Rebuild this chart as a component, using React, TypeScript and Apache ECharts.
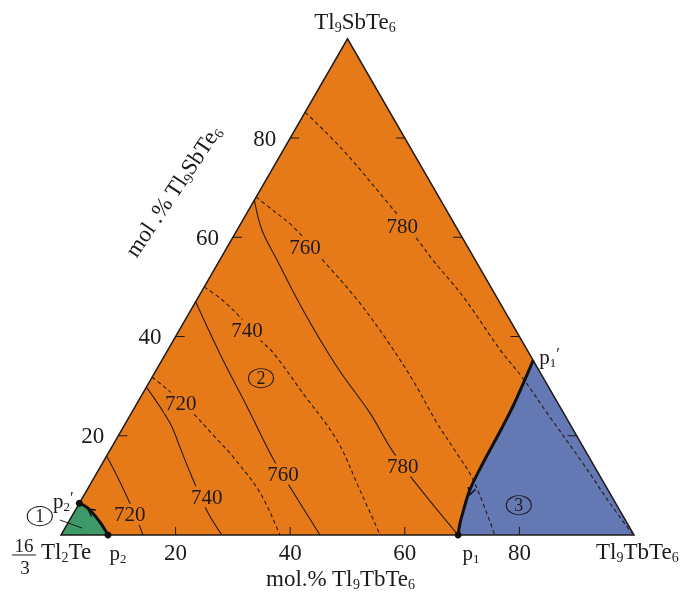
import { useEffect, useRef } from 'react';
import * as echarts from 'echarts';

// Ternary compositions are given as [mol.% Tl9TbTe6, mol.% Tl9SbTe6]
const H = Math.sqrt(3) / 2;
const toXY = (p: number[]) => [p[0] + p[1] / 2, p[1] * H];

const TICKS = [20, 40, 60, 80];

const TRIANGLE = [[0, 0], [100, 0], [0, 100]];
const CURVE_P2 = [[8.2, 0], [5.5, 2.6], [2.0, 5.4], [0, 6.4]];
const FIELD_1 = [[0, 0], ...CURVE_P2];
const CURVE_P1 = [[69.3, 0], [68.5, 2.2], [67.9, 4.4], [66.8, 9.1], [66.4, 14.5], [66.2, 20.6], [65.9, 26.0], [65.4, 30.5], [64.8, 35.2]];
const FIELD_3 = [...CURVE_P1, [100, 0]];

// solid isotherms
const ISO_S_720 = [[0, 15.9], [4.2, 11.5], [8.2, 7.1], [11.8, 3.0], [14.3, 0]];
const ISO_S_740 = [[0, 29.8], [7.7, 22.6], [12.4, 17.1], [17.0, 11.7], [23.3, 4.6], [28.1, 0]];
const ISO_S_760 = [[0, 47.0], [10.6, 35.3], [19.6, 25.8], [29.2, 15.5], [35.1, 9.7], [45.2, 0]];
const ISO_S_780 = [[0, 67.5], [4.3, 61.5], [10.0, 55.4], [19.6, 45.3], [31.2, 33.9], [41.6, 24.6], [49.2, 17.1], [55.9, 11.1], [69.3, 0]];
// dashed isotherms
const ISO_D_720 = [[0, 31.8], [4.1, 29.2], [10.7, 24.6], [16.4, 20.2], [22.2, 15.7], [30.5, 8.5], [38.2, 0]];
const ISO_D_740 = [[0, 50.0], [4.4, 47.4], [9.3, 43.9], [15.1, 39.3], [18.7, 36.7], [27.9, 28.6], [38.6, 19.1], [47.6, 9.1], [55.7, 0]];
const ISO_D_760 = [[0, 68.1], [4.8, 65.1], [9.5, 62.1], [18.0, 55.4], [28.0, 47.4], [37.2, 39.3], [45.8, 31.2], [54.3, 22.6], [60.8, 16.5], [66.4, 11.1], [75.7, 0]];
const ISO_D_780 = [[0, 85.2], [10.4, 77.6], [23.6, 66.9], [32.6, 59.4], [37.2, 55.4], [46.2, 48.0], [58.0, 37.3], [64.8, 31.6], [73.4, 23.8], [83.8, 14.5], [92.6, 6.4], [99.4, 0.4]];

const SOLID_LINES = [ISO_S_720, ISO_S_740, ISO_S_760, ISO_S_780];
const DASHED_LINES = [ISO_D_720, ISO_D_740, ISO_D_760, ISO_D_780];

const ISO_LABEL_TEXT = ['720', '740', '760', '780', '720', '740', '760', '780'];
const ISO_LABEL_POS = [[9.9, 4.2], [21.6, 7.7], [32.6, 12.3], [52.7, 13.9], [7.6, 26.6], [11.8, 41.3], [13.6, 58.0], [28.4, 62.3]];

const FIELD_NUMBERS = ['1', '2', '3'];
const FIELD_NUMBER_POS = [[-5.6, 3.8], [19.1, 31.6], [76.9, 6.0]];
const LEADER_1 = [[-2.8, 3.4], [3.0, 1.4]];

const P1 = [69.3, 0];
const P2 = [8.2, 0];
const P2_PRIME = [0, 6.4];
const P1_PRIME = [64.8, 35.2];

const ARROW_AT = [[2.1, 5.2], [67.3, 8.1]];
const ARROW_TOWARD = [[0, 6.4], [69.3, 0]];

const FONT = "'Liberation Serif', 'Times New Roman', serif";
const INK = '#1e1a1a';
const LINE_INK = '#2a1a10';
const ORANGE = '#E67A19';
const BLUE = '#6478B4';
const GREEN = '#3D9A68';

const subRich = (size: number) => ({
  s: { fontSize: Math.round(size * 0.6), fontFamily: FONT, color: INK, fill: INK, padding: [Math.round(size * 0.5), 0, 0, 0] },
  q: { fontSize: Math.round(size * 0.8), fontFamily: FONT, color: INK, fill: INK, padding: [0, 0, Math.round(size * 0.35), 0] },
});

export default function App() {
  const ref = useRef<HTMLDivElement>(null);
  useEffect(() => {
    if (!ref.current) return;
    const chart = echarts.init(ref.current, null, { renderer: 'svg' });
    const H_PX = 573 * H;

    const lineSeries = (pts: number[][], dashed: boolean) => ({
      type: 'line',
      data: pts.map(toXY),
      smooth: 0.35,
      showSymbol: false,
      symbol: 'none',
      clip: false,
      silent: true,
      z: 3,
      lineStyle: { color: LINE_INK, width: 1.1, type: dashed ? [4, 3] : 'solid' },
    });

    const option: any = {
      animation: false,
      grid: { left: 61, top: 535 - H_PX, width: 573, height: H_PX, containLabel: false },
      xAxis: {
        type: 'value', min: 0, max: 100, interval: 20,
        axisLine: { show: false }, axisTick: { show: false }, splitLine: { show: false },
        axisLabel: {
          customValues: TICKS,
          formatter: (v: number) => (v === 0 || v === 100 ? '' : String(v)),
          fontSize: 23, fontFamily: FONT, color: INK, margin: 6,
        },
      },
      yAxis: { type: 'value', min: 0, max: 100 * H, show: false },
      graphic: [
        { type: 'text', x: 355, y: 21, style: { text: 'Tl{s|9}SbTe{s|6}', fontSize: 23, fontFamily: FONT, fill: INK, align: 'center', verticalAlign: 'middle', rich: subRich(23) } },
        { type: 'text', x: 596, y: 551, style: { text: 'Tl{s|9}TbTe{s|6}', fontSize: 23, fontFamily: FONT, fill: INK, align: 'left', verticalAlign: 'middle', rich: subRich(23) } },
        { type: 'text', x: 41, y: 551, style: { text: 'Tl{s|2}Te', fontSize: 23, fontFamily: FONT, fill: INK, align: 'left', verticalAlign: 'middle', rich: subRich(23) } },
        { type: 'text', x: 24, y: 545, style: { text: '16', fontSize: 19, fontFamily: FONT, fill: INK, align: 'center', verticalAlign: 'middle' } },
        { type: 'line', shape: { x1: 12, y1: 555, x2: 36, y2: 555 }, style: { stroke: INK, lineWidth: 1 } },
        { type: 'text', x: 25, y: 567, style: { text: '3', fontSize: 19, fontFamily: FONT, fill: INK, align: 'center', verticalAlign: 'middle' } },
        { type: 'text', x: 266, y: 578, style: { text: 'mol.% Tl{s|9}TbTe{s|6}', fontSize: 23, fontFamily: FONT, fill: INK, align: 'left', verticalAlign: 'middle', rich: subRich(23) } },
        { type: 'text', x: 173, y: 191, rotation: (56 * Math.PI) / 180, style: { text: 'mol .% Tl{s|9}SbTe{s|6}', fontSize: 23, fontFamily: FONT, fill: INK, align: 'center', verticalAlign: 'middle', rich: subRich(23) } },
      ],
      series: [
        {
          type: 'custom', coordinateSystem: 'cartesian2d', data: [[0, 0]], silent: true, z: 1, clip: false,
          renderItem: (_p: any, api: any) => {
            const c = (p: number[]) => api.coord(toXY(p));
            return {
              type: 'group',
              children: [
                { type: 'polygon', shape: { points: TRIANGLE.map(c) }, style: { fill: ORANGE } },
                { type: 'polygon', shape: { points: FIELD_1.map(c) }, style: { fill: GREEN } },
                { type: 'polygon', shape: { points: FIELD_3.map(c) }, style: { fill: BLUE } },
              ],
            };
          },
        },
        ...SOLID_LINES.map((l) => lineSeries(l, false)),
        ...DASHED_LINES.map((l) => lineSeries(l, true)),
        {
          type: 'line', data: CURVE_P1.map(toXY), smooth: 0.35, showSymbol: false, symbol: 'none', clip: false, silent: true, z: 6,
          lineStyle: { color: '#111', width: 3 },
        },
        {
          type: 'line', data: CURVE_P2.map(toXY), smooth: 0.35, showSymbol: false, symbol: 'none', clip: false, silent: true, z: 6,
          lineStyle: { color: '#111', width: 3 },
        },
        {
          type: 'line', data: LEADER_1.map(toXY), showSymbol: false, symbol: 'none', clip: false, silent: true, z: 6,
          lineStyle: { color: INK, width: 1 },
        },
        {
          type: 'custom', coordinateSystem: 'cartesian2d', data: [[0, 0]], silent: true, z: 5, clip: false,
          renderItem: (_p: any, api: any) => {
            const c = (p: number[]) => api.coord(toXY(p));
            const stroke = { stroke: INK, lineWidth: 1 };
            const children: any[] = [
              { type: 'polygon', shape: { points: TRIANGLE.map(c) }, style: { fill: 'none', stroke: INK, lineWidth: 1.5 } },
            ];
            TICKS.forEach((t) => {
              const b = c([t, 0]);
              children.push({ type: 'line', shape: { x1: b[0], y1: b[1], x2: b[0], y2: b[1] - 8 }, style: stroke });
              const l = c([0, t]);
              children.push({ type: 'line', shape: { x1: l[0], y1: l[1], x2: l[0] + 9, y2: l[1] }, style: stroke });
              children.push({ type: 'text', x: l[0] - 14, y: l[1], style: { text: String(t), fontSize: 23, fontFamily: FONT, fill: INK, align: 'right', verticalAlign: 'middle' } });
              const r = c([100 - t, t]);
              children.push({ type: 'line', shape: { x1: r[0] - 9, y1: r[1], x2: r[0], y2: r[1] }, style: stroke });
            });
            ARROW_AT.forEach((at, i) => {
              const tip = c(at);
              const to = c(ARROW_TOWARD[i]);
              let dx = to[0] - tip[0];
              let dy = to[1] - tip[1];
              const len = Math.hypot(dx, dy);
              dx /= len; dy /= len;
              const wing = (ang: number) => {
                const ca = Math.cos(ang), sa = Math.sin(ang);
                const rx = dx * ca - dy * sa, ry = dx * sa + dy * ca;
                return [tip[0] - 8 * rx, tip[1] - 8 * ry];
              };
              children.push({ type: 'polyline', shape: { points: [wing(0.5), tip, wing(-0.5)] }, style: { fill: 'none', stroke: '#111', lineWidth: 1.4 } });
            });
            return { type: 'group', children };
          },
        },
        {
          type: 'scatter', silent: true, z: 8, clip: false,
          symbol: 'circle', symbolSize: 0,
          itemStyle: { opacity: 1 },
          data: ISO_LABEL_POS.map((p, i) => ({ value: toXY(p), name: ISO_LABEL_TEXT[i] })),
          label: {
            show: true, position: 'inside', formatter: '{b}', fontSize: 21, fontFamily: FONT, color: INK,
            backgroundColor: ORANGE, padding: [0, 1], opacity: 1,
          },
        },
        {
          type: 'scatter', silent: true, z: 8, clip: false,
          symbol: 'circle', symbolSize: [25, 19],
          itemStyle: { color: 'rgba(0,0,0,0)', borderColor: INK, borderWidth: 1, opacity: 1 },
          data: FIELD_NUMBER_POS.map((p, i) => ({ value: toXY(p), name: FIELD_NUMBERS[i] })),
          label: { show: true, position: 'inside', formatter: '{b}', fontSize: 18, fontFamily: FONT, color: INK, opacity: 1 },
        },
        {
          type: 'scatter', silent: true, z: 9, clip: false,
          symbol: 'circle',
          itemStyle: { color: '#111', opacity: 1 },
          data: [
            { value: toXY(P1), symbolSize: 7, label: { show: true, position: 'bottom', distance: 2, offset: [13, 0], formatter: 'p{s|1}' } },
            { value: toXY(P2), symbolSize: 7, label: { show: true, position: 'bottom', distance: 2, offset: [10, 0], formatter: 'p{s|2}' } },
            { value: toXY(P2_PRIME), symbolSize: 7, label: { show: true, position: 'left', distance: 2, offset: [0, -2], formatter: 'p{s|2}{q|′}' } },
            { value: toXY(P1_PRIME), symbolSize: 0, label: { show: true, position: 'right', distance: 6, offset: [0, -3], formatter: 'p{s|1}{q|′}' } },
          ],
          label: { fontSize: 21, fontFamily: FONT, color: INK, opacity: 1, rich: subRich(21) },
        },
      ],
    };
    chart.setOption(option);
    return () => chart.dispose();
  }, []);
  return <div ref={ref} style={{ position: 'fixed', left: 0, top: 0, width: 681, height: 593 }} />;
}
